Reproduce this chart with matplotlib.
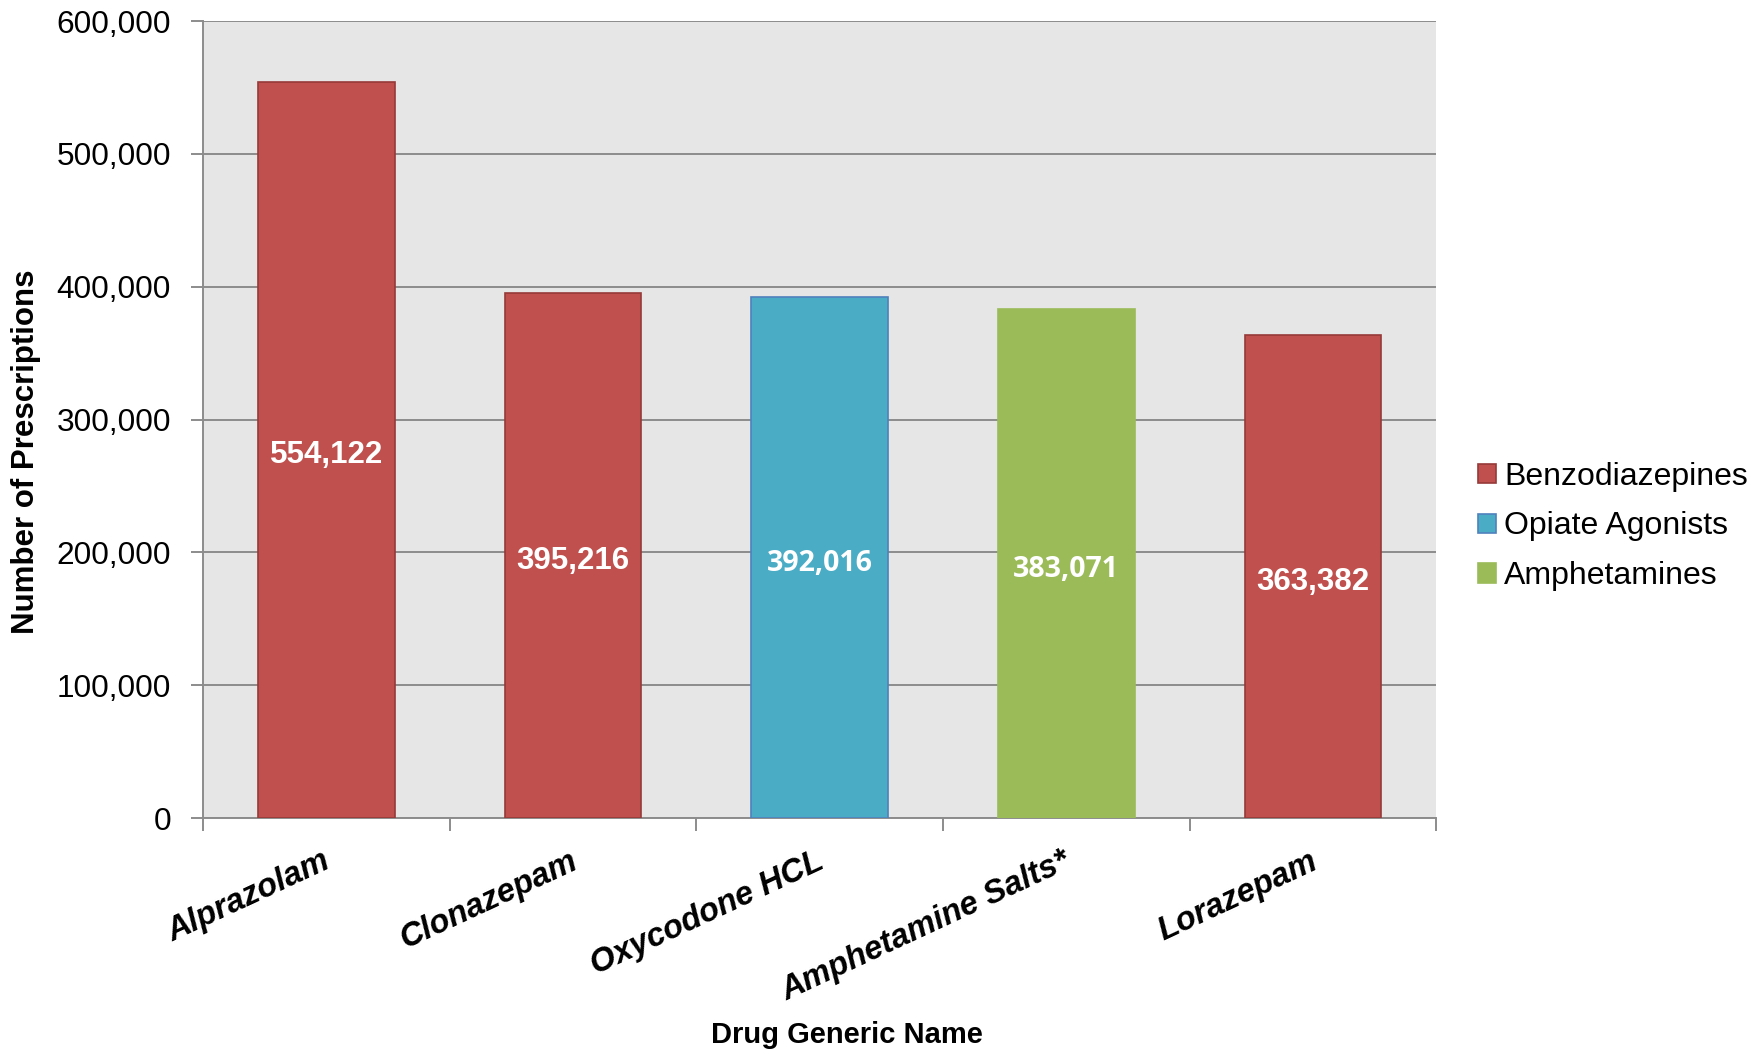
import numpy as np
import matplotlib.pyplot as plt
import matplotlib.transforms as mtransforms
from matplotlib.patches import Patch

plt.rcParams['font.family'] = ['Liberation Sans', 'DejaVu Sans']

##data
drugs = ['Alprazolam', 'Clonazepam', 'Oxycodone HCL', 'Amphetamine Salts*', 'Lorazepam']
counts = [554122, 395216, 392016, 383071, 363382]
groups = ['Benzodiazepines', 'Benzodiazepines', 'Opiate Agonists', 'Amphetamines', 'Benzodiazepines']
group_names = ['Benzodiazepines', 'Opiate Agonists', 'Amphetamines']
yticks = [0, 100000, 200000, 300000, 400000, 500000, 600000]

fill = {'Benzodiazepines': '#C0504D', 'Opiate Agonists': '#4BACC6', 'Amphetamines': '#9BBB59'}
edge = {'Benzodiazepines': '#963A38', 'Opiate Agonists': '#4F81BD', 'Amphetamines': '#9BBB59'}

##draw ax
fig = plt.figure(figsize=(17.58, 10.53), dpi=100)
ax = fig.add_axes([0.1155, 0.223, 0.7015, 0.757])
ax.set_facecolor('#E6E6E6')

x = np.arange(len(drugs))
ax.bar(x, counts, width=0.555, color=[fill[g] for g in groups],
       edgecolor=[edge[g] for g in groups], linewidth=1.2, zorder=3)

##value labels in the middle of each bar
for i, v in enumerate(counts):
    if groups[i] == 'Benzodiazepines':
        ax.text(i, v / 2 - 4000, f'{v:,}', ha='center', va='center', color='white',
                fontsize=22.5, fontweight='bold', family=['Liberation Sans'], zorder=4)
    else:
        ax.text(i, v / 2 - 4000, f'{v:,}', ha='center', va='center', color='white',
                fontsize=20.5, fontweight='bold', family=['Open Sans', 'DejaVu Sans'], zorder=4)

ax.set_xlim(-0.5, len(drugs) - 0.5)
ax.set_ylim(0, 600000)
ax.set_yticks(yticks)
ax.set_yticklabels([f'{t:,}' for t in yticks], fontsize=22.8)
ax.yaxis.grid(True, color='#8C8C8C', linewidth=1.4, zorder=0)
ax.set_axisbelow(True)

ax.set_xticks(x)
ax.set_xticklabels(drugs, rotation=25, ha='right', fontsize=23.5,
                   fontweight='bold', fontstyle='italic')
ax.tick_params(axis='x', which='major', length=0, pad=20)
offset = mtransforms.ScaledTranslation(9 / 100, 0, fig.dpi_scale_trans)
for lab in ax.get_xticklabels():
    lab.set_transform(lab.get_transform() + offset)
ax.set_xticks(np.arange(-0.5, len(drugs)), minor=True)
ax.tick_params(axis='x', which='minor', length=9, width=1.4, color='#8C8C8C', direction='out')
ax.tick_params(axis='y', length=9, width=1.4, color='#8C8C8C', pad=14)

for s in ['top', 'right']:
    ax.spines[s].set_visible(False)
for s in ['left', 'bottom']:
    ax.spines[s].set_color('#8C8C8C')
    ax.spines[s].set_linewidth(1.4)

ax.set_ylabel('Number of Prescriptions', fontsize=22.5, fontweight='bold')
ax.yaxis.set_label_coords(-0.1315, 0.46)
ax.set_xlabel('Drug Generic Name', fontsize=21, fontweight='bold')
ax.xaxis.set_label_coords(0.522, -0.255)

handles = [Patch(facecolor=fill[g], edgecolor=edge[g], linewidth=1.2, label=g) for g in group_names]
fig.legend(handles=handles, loc='center left', bbox_to_anchor=(0.841, 0.5),
           frameon=False, fontsize=23, handlelength=0.55, handleheight=0.55,
           handletextpad=0.25, labelspacing=0.62, borderpad=0, borderaxespad=0)

fig.savefig('out.png', dpi=100)
